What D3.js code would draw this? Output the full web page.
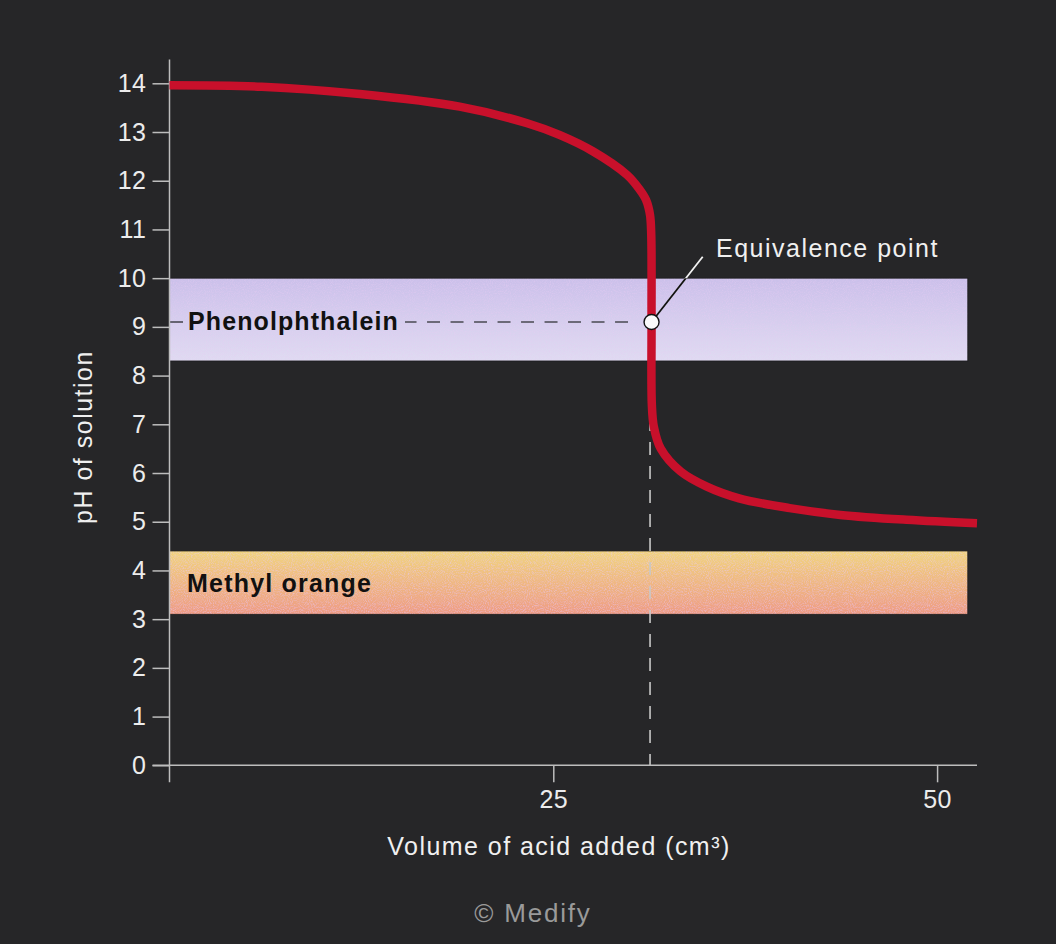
<!DOCTYPE html>
<html>
<head>
<meta charset="utf-8">
<title>Titration curve</title>
<script src="https://d3js.org/d3.v7.min.js"></script>
<style>
  html, body { margin: 0; padding: 0; background: #262628; }
  svg { display: block; }
  text { font-family: "Liberation Sans", Arial, sans-serif; }
</style>
</head>
<body>
<div id="chart"></div>
<script>
// titration curve: volume of acid added (cm3) vs pH
var volume = [0, 6, 12.4, 18.9, 23.3, 25.4, 27.6, 29.8, 30.6, 31.05, 31.3, 31.38, 31.4, 31.42, 31.55, 32.0, 33.3, 35.0, 37.1, 40.4, 43.7, 48.0, 52.6];
var pH     = [13.96, 13.93, 13.78, 13.52, 13.18, 12.94, 12.6, 12.12, 11.83, 11.6, 11.3, 10.9, 9.1, 7.4, 6.95, 6.5, 6.03, 5.72, 5.48, 5.28, 5.14, 5.04, 4.97];

// indicator ranges
var indicatorNames = ["Phenolphthalein", "Methyl orange"];
var indicatorLow   = [8.3, 3.1];
var indicatorHigh  = [10, 4.4];

var equivalence = {volume: 31.4, pH: 9.1};

var yTicks = d3.range(0, 15);
var xTicks = [25, 50];

var W = 1056, H = 944;

var svg = d3.select("#chart")
  .append("svg")
    .attr("width", W)
    .attr("height", H);

svg.append("rect")
    .attr("width", W)
    .attr("height", H)
    .attr("fill", "#262628");

var x = d3.scaleLinear().domain([0, 52.6]).range([169.5, 977]);
var y = d3.scaleLinear().domain([0, 14]).range([765.3, 83.3]);

var defs = svg.append("defs");

var g1 = defs.append("linearGradient").attr("id", "grad0").attr("x1", 0).attr("y1", 0).attr("x2", 0).attr("y2", 1);
g1.append("stop").attr("offset", "0%").attr("stop-color", "#cbc0ea");
g1.append("stop").attr("offset", "100%").attr("stop-color", "#e0dbf2");

var g2 = defs.append("linearGradient").attr("id", "grad1").attr("x1", 0).attr("y1", 0).attr("x2", 0).attr("y2", 1);
g2.append("stop").attr("offset", "0%").attr("stop-color", "#f1d47e");
g2.append("stop").attr("offset", "100%").attr("stop-color", "#ee9c84");

// grain for the indicator bands
var grain = defs.append("filter").attr("id", "grain").attr("x", 0).attr("y", 0).attr("width", 1).attr("height", 1);
grain.append("feTurbulence").attr("type", "fractalNoise").attr("baseFrequency", 0.95).attr("numOctaves", 2).attr("seed", 3).attr("result", "noise");
grain.append("feColorMatrix").attr("in", "noise").attr("type", "matrix")
  .attr("values", "0 0 0 0 0.8  0 0 0 0 0.6  0 0 0 0 0.9  0 0 0 -1.1 0.62")
  .attr("result", "tint");
grain.append("feComposite").attr("in", "tint").attr("in2", "SourceGraphic").attr("operator", "in").attr("result", "spots");
grain.append("feMerge").call(function (m) {
  m.append("feMergeNode").attr("in", "SourceGraphic");
  m.append("feMergeNode").attr("in", "spots");
});

// indicator bands
var bands = svg.append("g");
indicatorNames.forEach(function (name, i) {
  bands.append("rect")
      .attr("x", x(0))
      .attr("y", y(indicatorHigh[i]))
      .attr("width", x(52) - x(0))
      .attr("height", y(indicatorLow[i]) - y(indicatorHigh[i]))
      .attr("fill", "url(#grad" + i + ")")
      .attr("filter", "url(#grain)");
  bands.append("rect")
      .attr("x", x(0))
      .attr("y", y(indicatorHigh[i]))
      .attr("width", x(52) - x(0))
      .attr("height", y(indicatorLow[i]) - y(indicatorHigh[i]))
      .attr("fill", "none")
      .attr("stroke", "#1c1c1e")
      .attr("stroke-width", 0.8);
});

defs.append("clipPath").attr("id", "bandClip")
  .append("rect")
    .attr("x", x(0))
    .attr("y", y(indicatorHigh[0]))
    .attr("width", x(52) - x(0))
    .attr("height", y(indicatorLow[0]) - y(indicatorHigh[0]));

// band labels
svg.append("text")
    .attr("x", 188)
    .attr("y", y(equivalence.pH) + 8)
    .attr("font-size", 25)
    .attr("font-weight", "bold")
    .attr("letter-spacing", 1.1)
    .attr("fill", "#111")
    .text(indicatorNames[0]);

svg.append("text")
    .attr("x", 187)
    .attr("y", y(indicatorHigh[1]) + 41)
    .attr("font-size", 25)
    .attr("font-weight", "bold")
    .attr("letter-spacing", 1.2)
    .attr("fill", "#111")
    .text(indicatorNames[1]);

// dashed guide lines to the equivalence point
var ex = x(equivalence.volume), ey = y(equivalence.pH);

svg.append("line")
    .attr("x1", x(0)).attr("x2", 183)
    .attr("y1", ey).attr("y2", ey)
    .attr("stroke", "#4a4a52").attr("stroke-width", 1.6);

svg.append("line")
    .attr("x1", ex - 23.5).attr("x2", 405)
    .attr("y1", ey).attr("y2", ey)
    .attr("stroke", "#4a4a52").attr("stroke-width", 1.6)
    .attr("stroke-dasharray", "13,10.5");

svg.append("line")
    .attr("x1", ex - 1.5).attr("x2", ex - 1.5)
    .attr("y1", ey).attr("y2", y(0))
    .attr("stroke", "#c8c8c8").attr("stroke-width", 1.6)
    .attr("stroke-dasharray", "13,11");

// axes
var yAxis = svg.append("g")
    .attr("transform", "translate(" + x(0) + ",0)")
    .call(d3.axisLeft(y).tickValues(yTicks).tickSize(17).tickPadding(6).tickSizeOuter(0));
yAxis.select(".domain").remove();

var xAxis = svg.append("g")
    .attr("transform", "translate(0," + y(0) + ")")
    .call(d3.axisBottom(x).tickValues(xTicks).tickSize(17).tickPadding(8).tickSizeOuter(0));
xAxis.select(".domain").remove();

svg.selectAll(".tick line").attr("stroke", "#bdbdbd").attr("stroke-width", 1.5);
svg.selectAll(".tick text")
    .attr("fill", "#ececec")
    .style("font-family", "'Liberation Sans', Arial, sans-serif")
    .style("font-size", "25px")
    .style("letter-spacing", "0.5px");

svg.append("line")
    .attr("x1", x(0)).attr("x2", x(0))
    .attr("y1", 59.5).attr("y2", y(0) + 17)
    .attr("stroke", "#bdbdbd").attr("stroke-width", 1.5);

svg.append("line")
    .attr("x1", x(0) - 17).attr("x2", x(52.6))
    .attr("y1", y(0)).attr("y2", y(0))
    .attr("stroke", "#bdbdbd").attr("stroke-width", 1.5);

// titration curve
var points = volume.map(function (v, i) { return [v, pH[i]]; });
var line = d3.line()
    .x(function (d) { return x(d[0]); })
    .y(function (d) { return y(d[1]); })
    .curve(d3.curveCatmullRom.alpha(0.5));

svg.append("path")
    .datum(points)
    .attr("d", line)
    .attr("fill", "none")
    .attr("stroke", "#c8102b")
    .attr("stroke-width", 8.5)
    .attr("stroke-linecap", "butt");

// equivalence point marker and leader
var lx = 702.7, ly = 256.7;
svg.append("line")
    .attr("x1", ex).attr("y1", ey)
    .attr("x2", lx).attr("y2", ly)
    .attr("stroke", "#f2f2f2").attr("stroke-width", 1.8);
svg.append("line")
    .attr("clip-path", "url(#bandClip)")
    .attr("x1", ex).attr("y1", ey)
    .attr("x2", lx).attr("y2", ly)
    .attr("stroke", "#111").attr("stroke-width", 1.8);

svg.append("circle")
    .attr("cx", ex)
    .attr("cy", ey)
    .attr("r", 7.5)
    .attr("fill", "#fafafa")
    .attr("stroke", "#111")
    .attr("stroke-width", 1.4);

svg.append("text")
    .attr("x", 716)
    .attr("y", 257)
    .attr("font-size", 25)
    .attr("letter-spacing", 1.5)
    .attr("fill", "#f0f0f0")
    .text("Equivalence point");

// axis titles
svg.append("text")
    .attr("x", 559)
    .attr("y", 855)
    .attr("text-anchor", "middle")
    .attr("font-size", 25)
    .attr("letter-spacing", 1.45)
    .attr("fill", "#f0f0f0")
    .text("Volume of acid added (cm³)");

svg.append("text")
    .attr("transform", "translate(92,437) rotate(-90)")
    .attr("text-anchor", "middle")
    .attr("font-size", 25)
    .attr("letter-spacing", 1.5)
    .attr("fill", "#f0f0f0")
    .text("pH of solution");

svg.append("text")
    .attr("x", 533)
    .attr("y", 922)
    .attr("text-anchor", "middle")
    .attr("font-size", 26)
    .attr("letter-spacing", 1.8)
    .attr("fill", "#9a9a9a")
    .text("© Medify");
</script>
</body>
</html>
